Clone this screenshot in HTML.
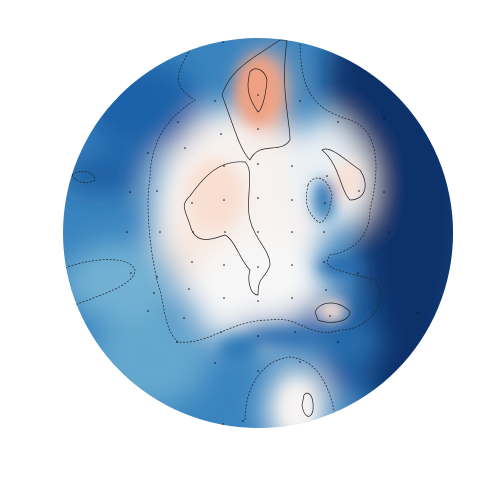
<!DOCTYPE html>
<html><head><meta charset="utf-8"><style>
html,body{margin:0;padding:0;background:#fff;}
svg{display:block;}
</style></head><body>
<svg width="504" height="504" viewBox="0 0 504 504">
<defs>
<clipPath id="head"><circle cx="258" cy="233" r="195"/></clipPath>
<filter id="blur" x="-50%" y="-50%" width="200%" height="200%"><feGaussianBlur stdDeviation="14"/></filter>
<filter id="blur2" x="-50%" y="-50%" width="200%" height="200%"><feGaussianBlur stdDeviation="7"/></filter>
</defs>
<g clip-path="url(#head)">
<rect x="50" y="30" width="420" height="410" fill="#3a84bf"/>
<g id="blobs" filter="url(#blur)"></g>
<g id="blobs2" filter="url(#blur2)"></g>
<g id="contours" fill="none" stroke="#222" stroke-width="0.7">
<path d="M195,36 C190,60 160,80 195,100 C180,110 150,130 150,180 C145,200 150,260 160,290 C165,310 165,330 178,342 C210,345 230,320 270,320 C300,315 310,340 340,330 C370,330 390,300 375,280 C340,270 320,270 330,255 C360,250 370,230 370,210 C380,170 380,130 350,120 C320,110 300,100 300,40" stroke-dasharray="2,1.5"/>
<path d="M222,95 C230,70 250,60 280,40 L287,40 C280,90 290,120 290,140 C280,155 260,140 250,160 C240,150 235,130 222,95 Z"/>
<path d="M250,72 C255,65 265,70 267,80 C266,95 262,110 258,112 C250,100 245,90 250,72 Z"/>
<path d="M190,196 C205,175 220,160 245,162 C255,170 245,200 250,220 C255,240 270,250 270,265 C265,280 258,275 258,295 C250,295 247,280 250,270 C240,260 235,240 225,235 C210,240 195,245 190,225 C185,210 180,205 190,196 Z"/>
<path d="M322,150 C330,145 345,160 360,170 C370,185 365,200 350,200 C340,190 340,165 322,150 Z"/>
<path d="M315,312 C320,300 340,300 350,312 C350,322 330,325 318,320 Z"/>
<path d="M304,395 C308,390 314,395 313,410 C311,420 304,418 302,405 Z"/>
<path d="M72,175 C80,168 95,172 95,180 C85,185 75,182 72,175 Z" stroke-dasharray="2,1.5"/>
<path d="M65,268 C90,258 130,255 135,270 C135,285 100,295 75,305" stroke-dasharray="2,1.5"/>
<path d="M245,420 C245,390 260,360 290,357 C320,360 330,390 335,415" stroke-dasharray="2,1.5"/>
<path d="M308,185 C315,172 328,178 332,195 C330,210 325,225 318,222 C305,210 305,200 308,185 Z" stroke-dasharray="2,1.5"/>
</g>
<g id="sensors"></g>
</g>
</svg>
<script>
// broad field blobs: centers in head units (-1..1), value -1 (deep blue) .. +1 (red)
const blobX = [0.8, 0.55, 0.85, -0.1, -0.25, 0.0, 0.45, 0.38, 0.05, -0.8, -0.55, -0.7, -0.6, 0.2, 0.35, 0.1, 0.5];
const blobY = [-0.15, -0.8, 0.75, -0.1, 0.1, 0.3, 0.7, 0.45, -0.72, -0.3, 0.65, 0.25, -0.65, 0.9, -0.3, 0.5, -0.25];
const blobRX = [0.3, 0.2, 0.3, 0.45, 0.2, 0.35, 0.12, 0.2, 0.1, 0.2, 0.3, 0.3, 0.3, 0.16, 0.18, 0.25, 0.08];
const blobRY = [0.9, 0.3, 0.25, 0.55, 0.25, 0.3, 0.12, 0.1, 0.22, 0.1, 0.25, 0.2, 0.25, 0.22, 0.3, 0.05, 0.2];
const blobV = [-1, -1, -1, 0.05, 0.15, 0.0, -0.75, -0.75, 0.45, -0.75, -0.3, -0.25, -0.72, 0.05, -0.02, -0.65, 0.02];
// fine features
const fineX = [0.0, -0.22, 0.46, 0.38, 0.2, 0.34, 0.42, 0.12, -0.1];
const fineY = [-0.73, -0.2, -0.27, 0.4, 0.9, -0.17, 0.17, 0.53, 0.6];
const fineRX = [0.12, 0.15, 0.07, 0.07, 0.07, 0.06, 0.12, 0.18, 0.1];
const fineRY = [0.18, 0.18, 0.1, 0.06, 0.12, 0.11, 0.04, 0.04, 0.08];
const fineV = [0.7, 0.22, 0.2, 0.2, 0.02, -0.55, -0.7, -0.65, -0.55];
const cx = 258, cy = 233, R = 195;
const sx = v => cx + v * R, sy = v => cy + v * R;
function color(v){
  const stops=[[-1,[8,48,107]],[-0.7,[33,102,172]],[-0.4,[67,147,195]],[-0.15,[146,197,222]],[0,[247,247,247]],[0.25,[249,220,205]],[0.6,[240,160,130]]];
  for(let i=1;i<stops.length;i++){ if(v<=stops[i][0]){const a=stops[i-1],b=stops[i];const t=(v-a[0])/(b[0]-a[0]);
    return 'rgb('+a[1].map((c,j)=>Math.round(c+(b[1][j]-c)*t)).join(',')+')';}}
  return 'rgb(240,160,130)';
}
const NS='http://www.w3.org/2000/svg';
const g=document.getElementById('blobs');
blobX.forEach((x,i)=>{
  const e=document.createElementNS(NS,'ellipse');
  
  
  e.setAttribute('cx',sx(x));e.setAttribute('cy',sy(blobY[i]));
  e.setAttribute('rx',blobRX[i]*R);e.setAttribute('ry',blobRY[i]*R);
  e.setAttribute('fill',color(blobV[i]));g.appendChild(e);
});
const g2=document.getElementById('blobs2');
fineX.forEach((x,i)=>{
  const e=document.createElementNS(NS,'ellipse');
  
  
  e.setAttribute('cx',sx(x));e.setAttribute('cy',sy(fineY[i]));
  e.setAttribute('rx',fineRX[i]*R);e.setAttribute('ry',fineRY[i]*R);
  e.setAttribute('fill',color(fineV[i]));g2.appendChild(e);
});
const sensX=[223,215,178,258,258,221,300,338,384,185,148,224,258,292,327,130,157,192,224,258,292,325,359,384,127,160,193,225,258,292,324,389,192,224,258,292,324,358,131,157,154,189,224,258,292,326,148,184,330,418,221,258,295,177,338,215,258,300,223,243];
const sensY=[42,101,122,95,129,134,101,122,119,148,153,166,164,166,176,192,191,203,200,198,200,203,191,192,232,232,232,232,232,232,232,232,262,265,267,265,262,273,273,277,293,289,298,301,298,290,311,318,316,313,332,336,332,342,342,363,371,362,424,421];
const sg=document.getElementById('sensors');
sensX.forEach((x,i)=>{
  const c=document.createElementNS(NS,'circle');
  
  
  c.setAttribute('cx',x);c.setAttribute('cy',sensY[i]);c.setAttribute('r',0.8);c.setAttribute('fill','#111');
  sg.appendChild(c);
});
</script>
</body></html>
